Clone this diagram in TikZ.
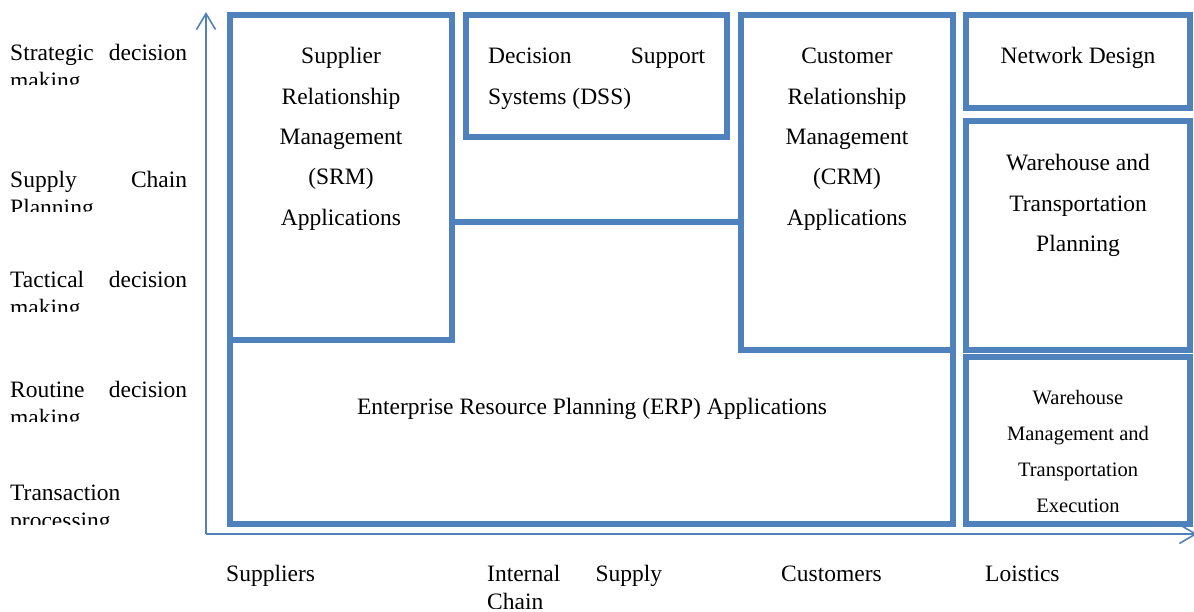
\documentclass[tikz,border=0pt]{standalone}
\usepackage{fontspec}
\setmainfont{Liberation Serif}
\usetikzlibrary{arrows.meta}
\definecolor{boxblue}{RGB}{79,129,189}
\tikzset{
	box/.style={line width=5.5pt, draw=boxblue, fill=white},
	axis/.style={line width=1.6pt, draw=boxblue, -{Straight Barb[length=16pt,width=19pt]}},
	txt/.style={inner sep=0pt, font=\fontsize{23.5}{40.3}\selectfont},
	small/.style={inner sep=0pt, font=\fontsize{20.5}{36}\selectfont},
	lvl/.style={inner sep=0pt, anchor=base west, text width=177pt, align=flush left,
		font=\fontsize{23.5}{28}\selectfont},
}

\begin{document}
\begin{tikzpicture}[x=1pt, y=-1pt]
	\useasboundingbox (0,0) rectangle (1194,612);
	% Achsen
	\coordinate (origin) at (206,534);
	\coordinate (ytop) at (206,12);
	\coordinate (xend) at (1197,534);
	\draw[axis] (origin) -- (ytop);
	\draw[axis] (origin) -- (xend);

	% Kaesten
	\draw[box] (230,222) rectangle (953,524);
	\draw[box] (230,15) rectangle (452,340);
	\draw[box] (466,15) rectangle (727,137);
	\draw[box] (741,15) rectangle (953,350);
	\draw[box] (966,15) rectangle (1190,108);
	\draw[box] (966,121) rectangle (1190,350);
	\draw[box] (966,357) rectangle (1190,524);

	% Beschriftungen in den Kaesten (base = letzte Zeile)
	\node[txt, anchor=base, align=center] (srm) at (341,225.2)
		{Supplier\\Relationship\\Management\\(SRM)\\Applications};
	\node[txt, anchor=base west, text width=217pt, align=flush left] (dss) at (488,64)
		{Decision\hfill Support\\Systems (DSS)};
	\node[txt, anchor=base, align=center] (crm) at (847,225.2)
		{Customer\\Relationship\\Management\\(CRM)\\Applications};
	\node[txt, anchor=base] (netdesign) at (1078,64) {Network Design};
	\node[txt, anchor=base, align=center] (wtp) at (1078,251.6)
		{Warehouse and\\Transportation\\Planning};
	\node[txt, anchor=base] (erp) at (592,414)
		{Enterprise Resource Planning (ERP) Applications};
	\node[small, anchor=base, align=center] (wmte) at (1078,512)
		{Warehouse\\Management and\\Transportation\\Execution};

	% Ebenen links
	\foreach \name/\yb/\txt in {strategic/60.7/{Strategic\hfill decision\\making},
		supply/188/{Supply\hfill Chain\\Planning},
		tactical/288/{Tactical\hfill decision\\making},
		routine/397/{Routine\hfill decision\\making},
		transaction/500/{Transaction\\processing}}
	{
		\begin{scope}
			\clip (0,\yb-40) rectangle (200,\yb+24);
			\node[lvl] (lvl-\name) at (10,\yb) {\txt};
		\end{scope}
	}

	% Partner unten
	\node[txt, anchor=base west] (suppliers) at (226,581) {Suppliers};
	\begin{scope}
		\clip (480,540) rectangle (680,608);
		\node[lvl, text width=175pt] (internal) at (487,581) {Internal\hfill Supply\\Chain};
	\end{scope}
	\node[txt, anchor=base west] (customers) at (781,581) {Customers};
	\node[txt, anchor=base west] (logistics) at (985,581) {Loistics};
\end{tikzpicture}
\end{document}
